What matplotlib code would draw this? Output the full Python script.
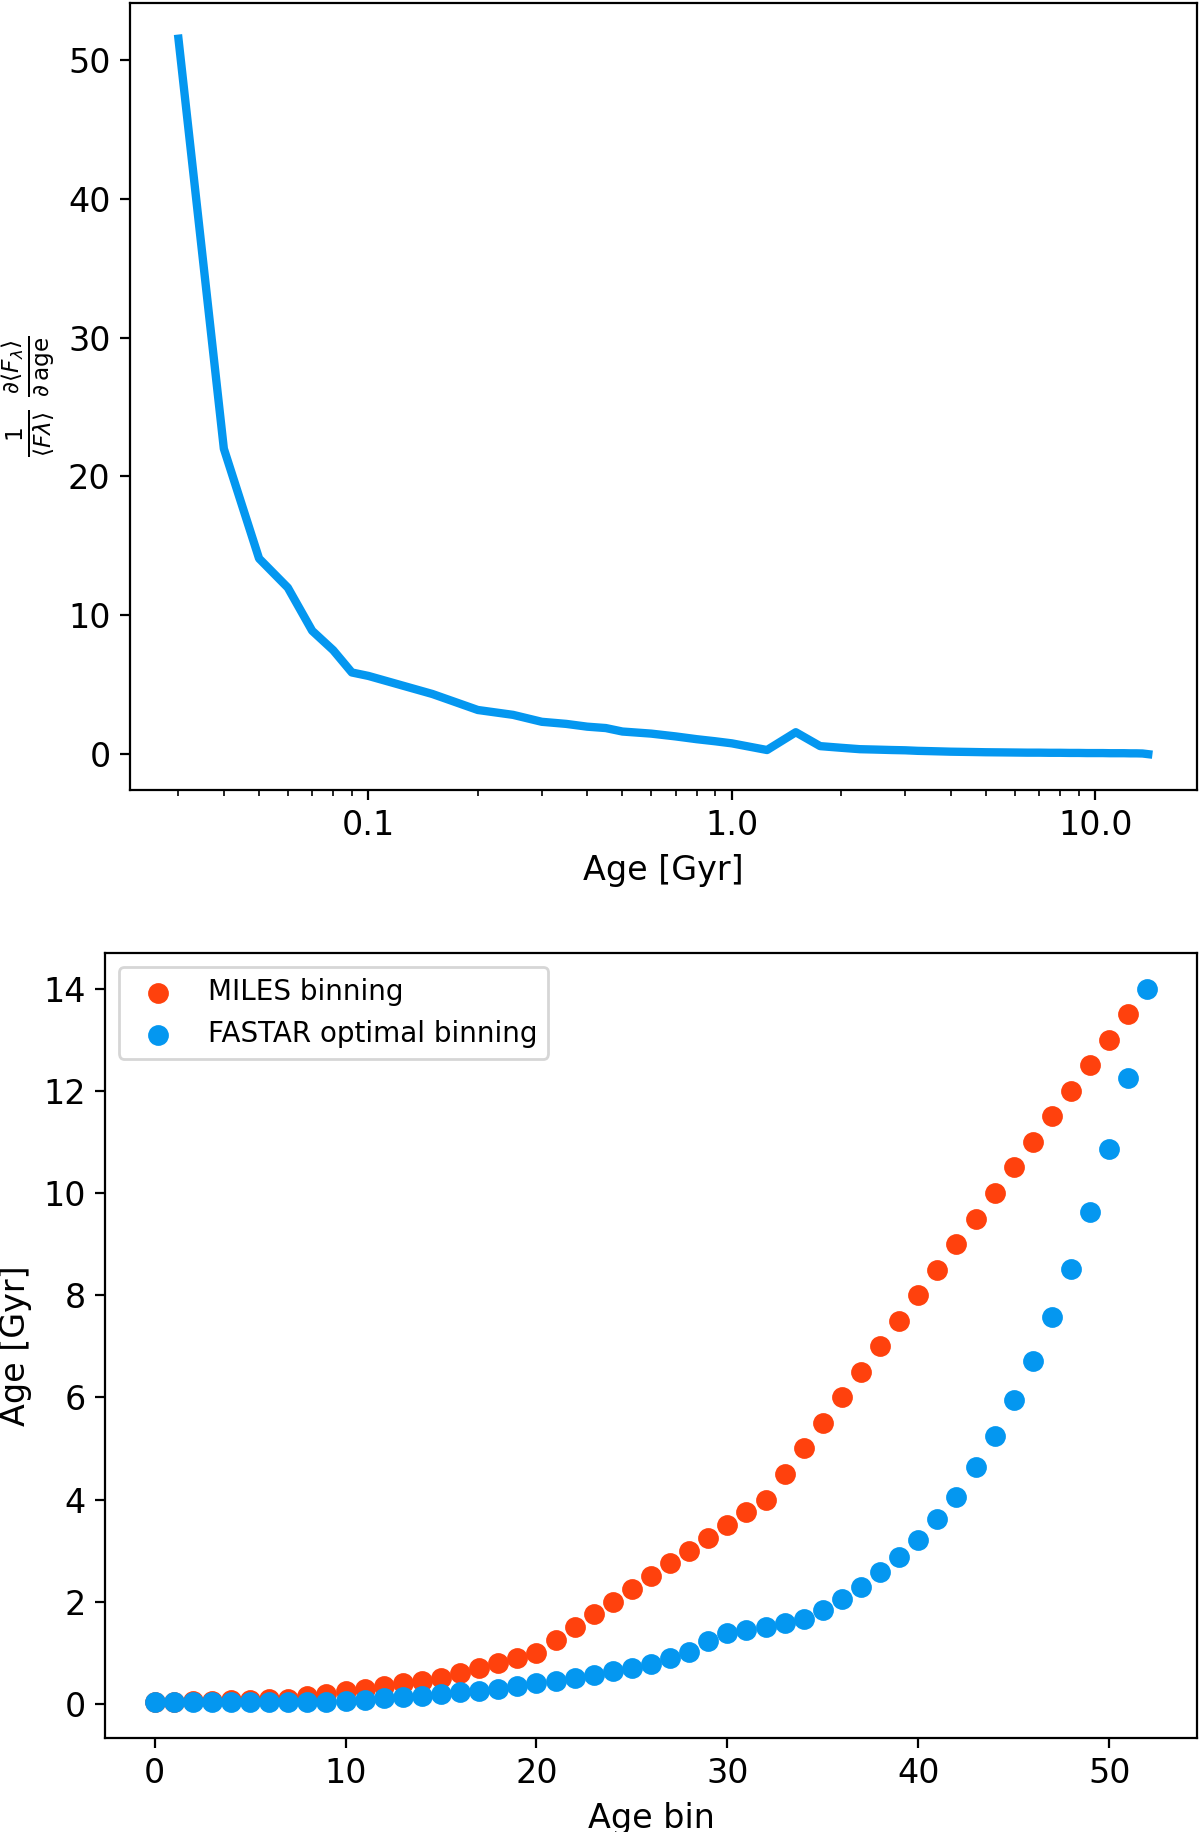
import matplotlib

matplotlib.use("Agg")

import matplotlib.pyplot as plt


RED = "#FF410D"
BLUE = "#0497F0"

# MILES age grid [Gyr] (age bins 0..51)
miles_ages = [
    0.03, 0.04, 0.05, 0.06, 0.07, 0.08, 0.09, 0.1, 0.15, 0.2,
    0.25, 0.3, 0.35, 0.4, 0.45, 0.5, 0.6, 0.7, 0.8, 0.9,
    1.0, 1.25, 1.5, 1.75, 2.0, 2.25, 2.5, 2.75, 3.0, 3.25,
    3.5, 3.75, 4.0, 4.5, 5.0, 5.5, 6.0, 6.5, 7.0, 7.5,
    8.0, 8.5, 9.0, 9.5, 10.0, 10.5, 11.0, 11.5, 12.0, 12.5,
    13.0, 13.5,
]

# FASTAR optimal binning [Gyr] (age bins 0..52)
fastar_ages = [
    0.03, 0.03, 0.03, 0.03, 0.03, 0.03, 0.03, 0.03, 0.035, 0.04,
    0.06, 0.08, 0.11, 0.14, 0.16, 0.2, 0.23, 0.26, 0.3, 0.34,
    0.4, 0.45, 0.5, 0.57, 0.64, 0.71, 0.79, 0.89, 1.01, 1.23,
    1.38, 1.45, 1.51, 1.58, 1.67, 1.83, 2.06, 2.28, 2.58, 2.88,
    3.2, 3.61, 4.05, 4.63, 5.25, 5.95, 6.72, 7.57, 8.51, 9.62,
    10.87, 12.25, 14.0,
]

# relative flux derivative vs age (top panel)
deriv_ages = miles_ages + [14.0]
deriv_values = [
    51.5, 22.0, 14.1, 12.0, 8.9, 7.5, 5.9, 5.65, 4.35, 3.2,
    2.85, 2.35, 2.2, 2.0, 1.9, 1.65, 1.5, 1.3, 1.1, 0.95,
    0.8, 0.32, 1.6, 0.6, 0.48, 0.38, 0.35, 0.32, 0.3, 0.26,
    0.24, 0.22, 0.2, 0.18, 0.16, 0.15, 0.14, 0.13, 0.13, 0.12,
    0.12, 0.11, 0.11, 0.1, 0.1, 0.1, 0.09, 0.09, 0.09, 0.08,
    0.08, 0.07, 0.02,
]


fig = plt.figure(figsize=(6, 9.16), dpi=200)

ax_top = fig.add_axes([0.1083, 0.5688, 0.889, 0.4296])
ax_top.plot(deriv_ages, deriv_values, color=BLUE, linewidth=3)
ax_top.set_xscale("log")
ax_top.set_xticks([0.1, 1.0, 10.0])
ax_top.set_xticklabels(["0.1", "1.0", "10.0"])
ax_top.tick_params(labelsize=12)
ax_top.set_xlabel("Age [Gyr]", fontsize=12)
ax_top.set_ylabel(
    r"$\frac{1}{\langle F\lambda\rangle}\ \frac{\partial\langle F_\lambda\rangle}{\partial\,\mathrm{age}}$",
    fontsize=12,
)

ax_bot = fig.add_axes([0.0875, 0.0513, 0.91, 0.4285])
ax_bot.scatter(range(len(miles_ages)), miles_ages, s=42, color=RED, label="MILES binning")
ax_bot.scatter(range(len(fastar_ages)), fastar_ages, s=42, color=BLUE, label="FASTAR optimal binning")
ax_bot.tick_params(labelsize=12)
ax_bot.set_xlabel("Age bin", fontsize=12)
ax_bot.set_ylabel("Age [Gyr]", fontsize=12)
ax_bot.legend(loc="upper left")

fig.savefig("out.png", dpi=200)
plt.close(fig)
